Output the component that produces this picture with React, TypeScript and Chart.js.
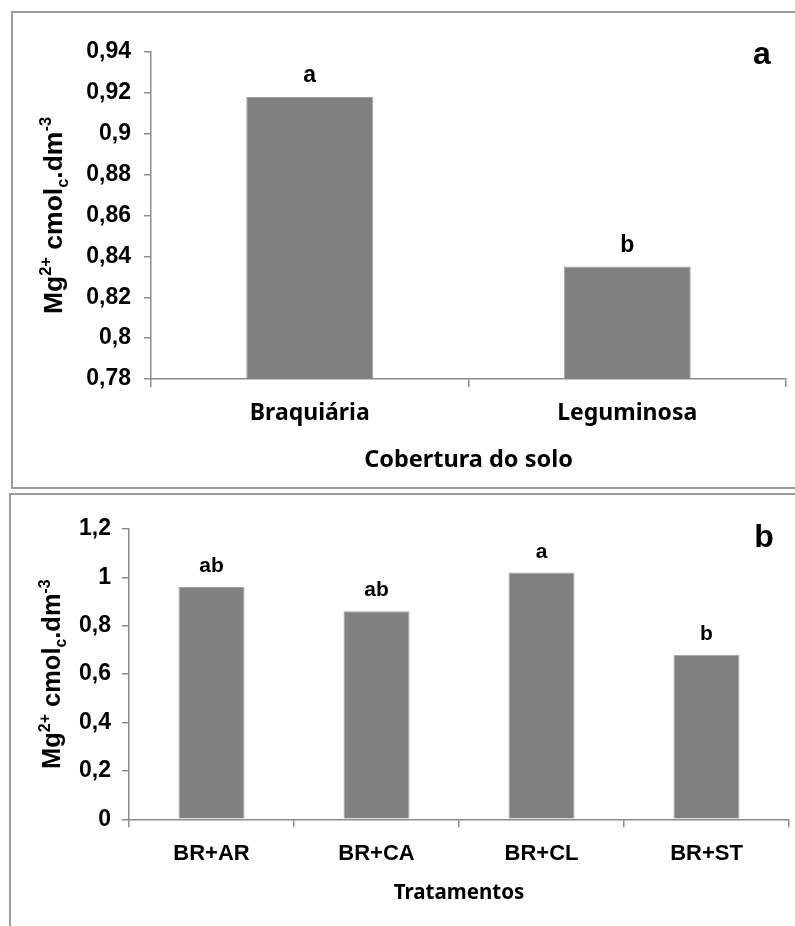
import React, { useEffect, useRef } from 'react';
import { Chart, registerables } from 'chart.js';

Chart.register(...registerables);

// ---------- data ----------
const coverCategories = ['Braquiária', 'Leguminosa'];
const coverValues = [0.918, 0.835];
const coverLetters = ['a', 'b'];
const coverTickMin = 0.78;
const coverTickMax = 0.94;
const coverTickStep = 0.02;

const treatCategories = ['BR+AR', 'BR+CA', 'BR+CL', 'BR+ST'];
const treatValues = [0.96, 0.86, 1.02, 0.68];
const treatLetters = ['ab', 'ab', 'a', 'b'];
const treatTickMin = 0;
const treatTickMax = 1.2;
const treatTickStep = 0.2;

const yTitleSegments = [
  { t: 'Mg', k: '' },
  { t: '2+', k: 'sup' },
  { t: ' cmol', k: '' },
  { t: 'c', k: 'sub' },
  { t: '.dm', k: '' },
  { t: '-3', k: 'sup' },
];

const ARIAL = '"Liberation Sans", Arial, sans-serif';
const TAHOMA = '"Noto Sans", "DejaVu Sans", sans-serif';
const AXIS_COLOR = '#8c8c8c';

function fmt(v: number) {
  return String(+Number(v).toFixed(2)).replace('.', ',');
}

function drawRich(ctx: CanvasRenderingContext2D, size: number) {
  const items = yTitleSegments.map((s) => {
    const sz = s.k ? size * 0.62 : size;
    ctx.font = `bold ${sz}px ${ARIAL}`;
    return { ...s, sz, w: ctx.measureText(s.t).width };
  });
  const total = items.reduce((a, b) => a + b.w, 0);
  let x = -total / 2;
  ctx.textAlign = 'left';
  ctx.textBaseline = 'alphabetic';
  for (const it of items) {
    ctx.font = `bold ${it.sz}px ${ARIAL}`;
    const dy = it.k === 'sup' ? -size * 0.4 : it.k === 'sub' ? size * 0.22 : 0;
    ctx.fillText(it.t, x, dy);
    x += it.w;
  }
}

type PanelProps = {
  top: number;
  height: number;
  categories: string[];
  values: number[];
  letters: string[];
  letterSize: number;
  min: number;
  max: number;
  step: number;
  panel: string;
  panelX: number;
  panelY: number;
  xTitle: string;
  xTitleSize: number;
  xTitleOffset: number;
  yTitleX: number;
  yTitleSize: number;
  xTickFont: { family: string; size: number };
  yAxisWidth: number;
  xAxisHeight: number;
  padTop: number;
  padRight: number;
  xTickPad: number;
  yTickPad: number;
};

function Panel(p: PanelProps) {
  const ref = useRef<HTMLCanvasElement | null>(null);
  useEffect(() => {
    if (!ref.current) return;
    const annot = {
      id: 'annot',
      afterDraw(chart: any) {
        const { ctx, chartArea } = chart;
        const meta = chart.getDatasetMeta(0);
        ctx.save();
        ctx.fillStyle = '#000';
        ctx.textAlign = 'center';
        ctx.textBaseline = 'alphabetic';
        ctx.font = `bold ${p.letterSize}px ${ARIAL}`;
        meta.data.forEach((bar: any, i: number) => {
          ctx.fillText(p.letters[i], bar.x, bar.y - 15);
        });
        ctx.font = `bold 32px ${ARIAL}`;
        ctx.fillText(p.panel, p.panelX, p.panelY);
        ctx.font = `bold ${p.xTitleSize}px ${TAHOMA}`;
        ctx.fillText(p.xTitle, (chartArea.left + chartArea.right) / 2, chartArea.bottom + p.xTitleOffset);
        ctx.translate(p.yTitleX, (chartArea.top + chartArea.bottom) / 2);
        ctx.rotate(-Math.PI / 2);
        drawRich(ctx, p.yTitleSize);
        ctx.restore();
      },
    };
    const chart = new Chart(ref.current, {
      type: 'bar',
      data: {
        labels: p.categories,
        datasets: [
          {
            data: p.values,
            backgroundColor: '#808080',
            borderColor: '#a3a3a3',
            borderWidth: 1,
            categoryPercentage: 1,
            barPercentage: 0.4,
          },
        ],
      },
      options: {
        animation: false,
        responsive: false,
        maintainAspectRatio: false,
        layout: { padding: { top: p.padTop, right: p.padRight, left: 0, bottom: 0 } },
        plugins: { legend: { display: false }, tooltip: { enabled: false } },
        scales: {
          x: {
            offset: true,
            grid: {
              offset: true,
              drawOnChartArea: false,
              drawTicks: true,
              tickLength: 8,
              color: AXIS_COLOR,
              lineWidth: 1.5,
            },
            border: { display: true, color: AXIS_COLOR, width: 1.5 },
            ticks: {
              color: '#000',
              font: { family: p.xTickFont.family, size: p.xTickFont.size, weight: 'bold' },
              padding: p.xTickPad,
              maxRotation: 0,
              autoSkip: false,
            },
            afterFit(scale: any) {
              scale.height = p.xAxisHeight;
            },
          },
          y: {
            min: p.min,
            max: p.max,
            grid: {
              drawOnChartArea: false,
              drawTicks: true,
              tickLength: 7,
              color: AXIS_COLOR,
              lineWidth: 1.5,
            },
            border: { display: true, color: AXIS_COLOR, width: 1.5 },
            ticks: {
              stepSize: p.step,
              color: '#000',
              font: { family: ARIAL, size: 23, weight: 'bold' },
              padding: p.yTickPad,
              callback: (v: any) => fmt(Number(v)),
            },
            afterFit(scale: any) {
              scale.width = p.yAxisWidth;
            },
          },
        },
      } as any,
      plugins: [annot],
    });
    return () => chart.destroy();
  }, []);
  return (
    <canvas
      ref={ref}
      width={795}
      height={p.height}
      style={{ position: 'absolute', left: 0, top: p.top, width: 795, height: p.height }}
    />
  );
}

export default function App() {
  return (
    <div
      style={{
        position: 'absolute',
        left: 0,
        top: 0,
        width: 795,
        height: 926,
        overflow: 'hidden',
        background: '#fff',
      }}
    >
      <div
        style={{
          position: 'absolute',
          left: 11,
          top: 11,
          width: 820,
          height: 478,
          boxSizing: 'border-box',
          border: '2px solid #9c9c9c',
        }}
      />
      <div
        style={{
          position: 'absolute',
          left: 9,
          top: 493,
          width: 820,
          height: 520,
          boxSizing: 'border-box',
          border: '2px solid #9c9c9c',
        }}
      />
      <Panel
        top={0}
        height={489}
        categories={coverCategories}
        values={coverValues}
        letters={coverLetters}
        letterSize={23}
        min={coverTickMin}
        max={coverTickMax}
        step={coverTickStep}
        panel="a"
        panelX={762}
        panelY={64}
        xTitle="Cobertura do solo"
        xTitleSize={23.5}
        xTitleOffset={88}
        yTitleX={62}
        yTitleSize={26.5}
        xTickFont={{ family: TAHOMA, size: 23 }}
        yAxisWidth={151}
        xAxisHeight={110}
        padTop={52}
        padRight={9}
        xTickPad={13}
        yTickPad={13}
      />
      <Panel
        top={490}
        height={436}
        categories={treatCategories}
        values={treatValues}
        letters={treatLetters}
        letterSize={21}
        min={treatTickMin}
        max={treatTickMax}
        step={treatTickStep}
        panel="b"
        panelX={764}
        panelY={57}
        xTitle="Tratamentos"
        xTitleSize={20.5}
        xTitleOffset={80}
        yTitleX={60}
        yTitleSize={25.5}
        xTickFont={{ family: ARIAL, size: 22 }}
        yAxisWidth={129}
        xAxisHeight={106.7}
        padTop={39}
        padRight={6}
        xTickPad={13}
        yTickPad={11}
      />
    </div>
  );
}
